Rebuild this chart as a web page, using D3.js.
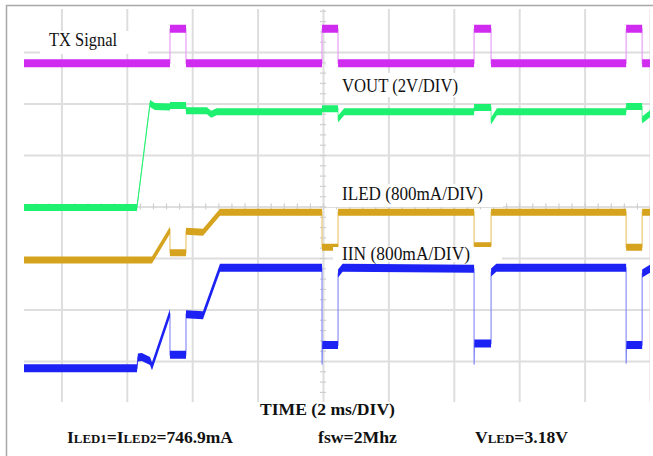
<!DOCTYPE html>
<meta charset="utf-8">
<title>TX signal transient</title>
<style>
  body { margin: 0; background: #fff; }
  .grid line { stroke: #dedede; stroke-width: 2px; }
  .grid path { display: none; }
  .minor line { stroke: #cfcfcf; stroke-width: 1.2px; }
  .minor path { display: none; }
  .label { font-family: "Liberation Serif", serif; font-size: 19.5px; fill: #111; }
  .foot { font-family: "Liberation Serif", serif; font-weight: bold; font-size: 17px; fill: #111; }
</style>
<body>
<script src="https://d3js.org/d3.v7.min.js"></script>
<script>

var width = 653,
    height = 456;

// x in ms (2 ms/div, 0 = screen centre), y in divisions (0 = screen centre)
var gridX = [-8, -6, -4, -2, 0, 2, 4, 6, 8, 10];
var gridY = [-3, -2, -1, 0, 1, 2, 3];

var txSignal = [[-10, 2.78], [-4.68, 2.78], [-4.68, 3.45], [-4.19, 3.45], [-4.19, 2.78],
  [-0.03, 2.78], [-0.03, 3.45], [0.46, 3.45], [0.46, 2.78], [4.62, 2.78], [4.62, 3.45],
  [5.14, 3.45], [5.14, 2.78], [9.27, 2.78], [9.27, 3.45], [9.76, 3.45], [9.76, 2.78], [10, 2.78]];

var vout = [[-10, -0.02], [-5.69, -0.02], [-5.29, 2.00], [-5.14, 1.94], [-4.68, 1.93],
  [-4.68, 1.96], [-4.19, 1.96], [-4.19, 1.86], [-3.55, 1.86], [-3.42, 1.79], [-3.25, 1.84],
  [-0.03, 1.84], [-0.03, 1.90], [0.46, 1.90], [0.46, 1.70], [0.65, 1.84], [4.62, 1.84],
  [4.62, 1.92], [5.14, 1.92], [5.14, 1.66], [5.32, 1.84], [9.27, 1.84], [9.27, 1.94],
  [9.76, 1.94], [9.76, 1.68], [10, 1.80]];

var iled = [[-10, -1.04], [-5.23, -1.04], [-4.68, -0.46], [-4.68, -0.90], [-4.19, -0.90],
  [-4.19, -0.48], [-3.67, -0.50], [-3.15, -0.11], [-0.03, -0.11], [-0.03, -0.79], [0.46, -0.79],
  [0.46, -0.11], [4.62, -0.11], [4.62, -0.76], [5.14, -0.76], [5.14, -0.11], [9.27, -0.11],
  [9.27, -0.79], [9.76, -0.79], [9.76, -0.11], [10, -0.11]];

var iin = [[-10, -3.14], [-5.69, -3.14], [-5.66, -2.93], [-5.54, -2.92], [-5.29, -3.00],
  [-5.23, -3.10], [-4.68, -2.07], [-4.68, -2.88], [-4.19, -2.88], [-4.19, -2.09], [-3.67, -2.11],
  [-3.15, -1.19], [-0.03, -1.19], [-0.03, -3.07], [-0.02, -2.69], [0.46, -2.69], [0.46, -1.30],
  [0.60, -1.19], [4.62, -1.21], [4.62, -3.07], [4.63, -2.66], [5.14, -2.66], [5.14, -1.28],
  [5.30, -1.19], [9.27, -1.19], [9.27, -3.05], [9.28, -2.69], [9.76, -2.69], [9.76, -1.30], [10, -1.21]];

var traces = [
  {name: "tx", data: txSignal, color: "#d02cf0", thin: "#e7a0f8", band: 8},
  {name: "vout", data: vout, color: "#1ef070", thin: "#86f5ad", band: 7},
  {name: "iled", data: iled, color: "#d6a31f", thin: "#e9c974", band: 7},
  {name: "iin", data: iin, color: "#1c22f4", thin: "#8a8ff8", band: 8}
];

var labels = [
  {text: "TX Signal", x: 49, y: 46, len: 68, box: [40, 31, 108, 23]},
  {text: "VOUT (2V/DIV)", x: 342, y: 92, len: 116, box: [338, 73, 124, 24]},
  {text: "ILED (800mA/DIV)", x: 342, y: 200, len: 141, box: [326, 184, 177, 23]},
  {text: "IIN (800mA/DIV)", x: 342, y: 260, len: 128, box: [333, 247, 169, 15]}
];

var cx = 323, cy = 206.5, divW = 65.4, divH = 51.5;
var scrLeft = 24, scrRight = 650, scrTop = 9, scrBottom = 402;

var x = d3.scaleLinear().domain([-10, 10]).range([cx - 5 * divW, cx + 5 * divW]);
var y = d3.scaleLinear().domain([-4, 4]).range([cy + 4 * divH, cy - 4 * divH]);

var svg = d3.select("body").append("svg")
  .attr("width", width)
  .attr("height", height);

svg.append("rect").attr("width", width).attr("height", height).attr("fill", "#fff");

// page frame
svg.append("path")
  .attr("d", "M6.5," + height + "V5.5H" + width)
  .attr("fill", "none").attr("stroke", "#a8a8a8").attr("stroke-width", 1.5);

svg.append("clipPath").attr("id", "scope")
  .append("rect").attr("x", scrLeft).attr("y", scrTop)
  .attr("width", scrRight - scrLeft).attr("height", scrBottom - scrTop);

var scope = svg.append("g").attr("clip-path", "url(#scope)");

scope.append("g").attr("class", "grid")
  .attr("transform", "translate(0," + scrBottom + ")")
  .call(d3.axisBottom(x).tickValues(gridX).tickSize(-(scrBottom - scrTop)).tickFormat(""));

scope.append("g").attr("class", "grid")
  .attr("transform", "translate(" + scrLeft + ",0)")
  .call(d3.axisLeft(y).tickValues(gridY).tickSize(-(scrRight - scrLeft)).tickFormat(""));

// small ticks on the centre cross
scope.append("g").attr("class", "minor")
  .attr("transform", "translate(0," + (y(0) - 3) + ")")
  .call(d3.axisBottom(x).tickValues(d3.range(-10, 10.01, 0.4)).tickSize(6).tickFormat(""));

scope.append("g").attr("class", "minor")
  .attr("transform", "translate(" + (x(0) + 3) + ",0)")
  .call(d3.axisLeft(y).tickValues(d3.range(-4, 4.01, 0.2)).tickSize(6).tickFormat(""));

traces.forEach(function(t) {
  var area = d3.area()
    .x(function(d) { return x(d[0]); })
    .y0(function(d) { return y(d[1]) - t.band / 2; })
    .y1(function(d) { return y(d[1]) + t.band / 2; });
  var line = d3.line()
    .x(function(d) { return x(d[0]); })
    .y(function(d) { return y(d[1]); });

  scope.append("path").attr("class", t.name)
    .attr("d", line(t.data))
    .attr("fill", "none").attr("stroke", t.thin).attr("stroke-width", 1.2);

  scope.append("path").attr("class", t.name)
    .attr("d", area(t.data))
    .attr("fill", t.color);
});

labels.forEach(function(l) {
  svg.append("rect")
    .attr("x", l.box[0]).attr("y", l.box[1])
    .attr("width", l.box[2]).attr("height", l.box[3])
    .attr("fill", "#fff");
  svg.append("text").attr("class", "label")
    .attr("x", l.x).attr("y", l.y)
    .attr("textLength", l.len).attr("lengthAdjust", "spacingAndGlyphs")
    .text(l.text);
});

// captions under the screen
svg.append("text").attr("class", "foot")
  .attr("x", 260).attr("y", 415)
  .attr("textLength", 135).attr("lengthAdjust", "spacingAndGlyphs")
  .text("TIME (2 ms/DIV)");

function foot(x0, len, parts) {
  var t = svg.append("text").attr("class", "foot")
    .attr("x", x0).attr("y", 443)
    .attr("textLength", len).attr("lengthAdjust", "spacingAndGlyphs");
  parts.forEach(function(p) {
    t.append("tspan").attr("font-size", p[1] ? "12.5px" : null).text(p[0]);
  });
}

foot(67, 166, [["I"], ["LED1", 1], ["=I"], ["LED2", 1], ["=746.9mA"]]);
foot(318, 79, [["fsw=2Mhz"]]);
foot(475, 93, [["V"], ["LED", 1], ["=3.18V"]]);

</script>
